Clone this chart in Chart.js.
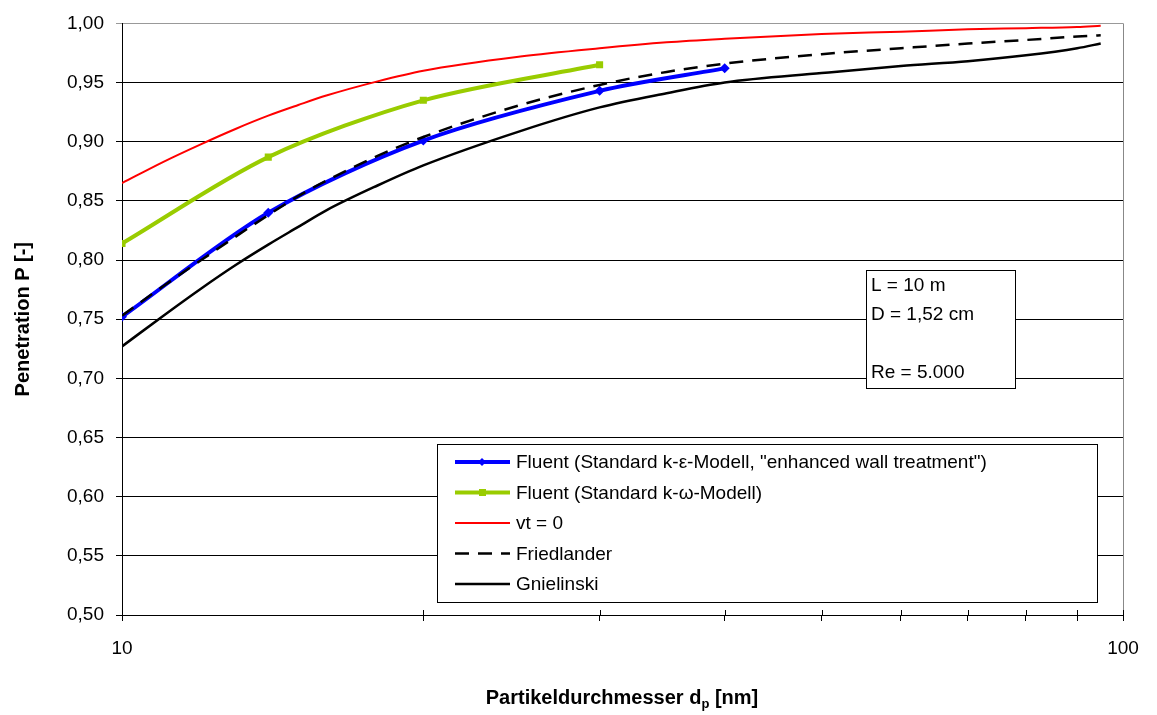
<!DOCTYPE html>
<html>
<head>
<meta charset="utf-8">
<script src="https://cdn.jsdelivr.net/npm/chart.js@4.4.1/dist/chart.umd.min.js"></script>
<style>
  html, body { margin: 0; padding: 0; background: #fff; }
  #wrap { width: 1157px; height: 715px; }
</style>
</head>
<body>
<div id="wrap"><canvas id="chart" width="1157" height="715"></canvas></div>
<script>
// particle diameters [nm]
var dpFluentEps = [10, 14, 20, 30, 40];
var kEpsilon = [0.752, 0.840, 0.901, 0.943, 0.962];
var dpFluentOmega = [10, 14, 20, 30];
var kOmega = [0.814, 0.887, 0.935, 0.965];

var dpTheory = [10, 11, 12, 13, 14, 15, 16, 18, 20, 25, 30, 35, 40, 50, 60, 70, 80, 90, 95];
var vt0 = [0.865, 0.883, 0.898, 0.911, 0.922, 0.931, 0.939, 0.951, 0.960, 0.972, 0.979, 0.984, 0.987, 0.991, 0.993, 0.995, 0.996, 0.997, 0.998];
var friedlander = [0.753, 0.778, 0.800, 0.820, 0.838, 0.854, 0.867, 0.888, 0.904, 0.931, 0.948, 0.959, 0.966, 0.974, 0.979, 0.983, 0.986, 0.989, 0.990];
var gnielinski = [0.727, 0.753, 0.776, 0.796, 0.813, 0.828, 0.842, 0.863, 0.880, 0.909, 0.929, 0.941, 0.950, 0.958, 0.964, 0.968, 0.973, 0.979, 0.983];

var labels = [
    'Fluent (Standard k-\u03b5-Modell, "enhanced wall treatment")',
    'Fluent (Standard k-\u03c9-Modell)',
    'vt = 0',
    'Friedlander',
    'Gnielinski'
];
var yTicks = [0.50, 0.55, 0.60, 0.65, 0.70, 0.75, 0.80, 0.85, 0.90, 0.95, 1.00];
var xTicks = [10, 20, 30, 40, 50, 60, 70, 80, 90, 100];
var infoLines = ['L = 10 m', 'D = 1,52 cm', '', 'Re = 5.000'];

var FONT = '"Liberation Sans", Arial, sans-serif';

function pts(xs, ys) {
    return xs.map(function (x, i) { return {x: x, y: ys[i]}; });
}

// legend + info box + x title drawn by hand
var decorations = {
    id: 'decorations',
    afterDraw: function (chart) {
        var ctx = chart.ctx;
        var area = chart.chartArea;
        var xs = chart.scales.x;
        ctx.save();

        // right border of plot area
        ctx.strokeStyle = '#888';
        ctx.lineWidth = 1;
        ctx.beginPath();
        ctx.moveTo(area.right + 0.5, area.top);
        ctx.lineTo(area.right + 0.5, area.bottom);
        ctx.stroke();

        // x tick marks crossing the axis
        ctx.strokeStyle = '#000';
        xTicks.forEach(function (v) {
            var px = Math.round(xs.getPixelForValue(v)) + 0.5;
            ctx.beginPath();
            ctx.moveTo(px, area.bottom - 5);
            ctx.lineTo(px, area.bottom);
            ctx.stroke();
        });

        // info box
        ctx.fillStyle = '#fff';
        ctx.fillRect(866, 270, 149, 118);
        ctx.strokeStyle = '#000';
        ctx.strokeRect(866.5, 270.5, 149, 118);
        ctx.fillStyle = '#000';
        ctx.font = '19px ' + FONT;
        ctx.textBaseline = 'middle';
        ctx.textAlign = 'left';
        infoLines.forEach(function (t, i) {
            ctx.fillText(t, 871, 286 + i * 29);
        });

        // legend box
        ctx.fillStyle = '#fff';
        ctx.fillRect(437, 444, 660, 158);
        ctx.strokeStyle = '#000';
        ctx.lineWidth = 1;
        ctx.strokeRect(437.5, 444.5, 660, 158);
        chart.data.datasets.forEach(function (ds, i) {
            var y = 462 + i * 30.5;
            ctx.strokeStyle = ds.borderColor;
            ctx.lineWidth = ds.borderWidth;
            ctx.setLineDash(ds.borderDash || []);
            ctx.beginPath();
            ctx.moveTo(455, y);
            ctx.lineTo(510, y);
            ctx.stroke();
            ctx.setLineDash([]);
            if (ds.pointStyle === 'rectRot') {
                ctx.fillStyle = ds.borderColor;
                ctx.beginPath();
                ctx.moveTo(482, y - 4); ctx.lineTo(486, y); ctx.lineTo(482, y + 4); ctx.lineTo(478, y);
                ctx.closePath();
                ctx.fill();
            } else if (ds.pointStyle === 'rect') {
                ctx.fillStyle = ds.borderColor;
                ctx.fillRect(479, y - 3.5, 7, 7);
            }
            ctx.fillStyle = '#000';
            ctx.font = '19px ' + FONT;
            ctx.fillText(ds.label, 516, y + 1);
        });

        // x axis title with subscript
        var a = 'Partikeldurchmesser d';
        var b = 'p';
        var c = ' [nm]';
        ctx.font = 'bold 20px ' + FONT;
        var wa = ctx.measureText(a).width;
        var wc = ctx.measureText(c).width;
        ctx.font = 'bold 13px ' + FONT;
        var wb = ctx.measureText(b).width;
        var x0 = 622 - (wa + wb + wc) / 2;
        ctx.fillStyle = '#000';
        ctx.textBaseline = 'alphabetic';
        ctx.font = 'bold 20px ' + FONT;
        ctx.fillText(a, x0, 704);
        ctx.font = 'bold 13px ' + FONT;
        ctx.fillText(b, x0 + wa, 708);
        ctx.font = 'bold 20px ' + FONT;
        ctx.fillText(c, x0 + wa + wb, 704);

        ctx.restore();
    }
};

var ctx = document.getElementById('chart');
new Chart(ctx, {
    type: 'line',
    data: {
        datasets: [
            {
                label: labels[0],
                data: pts(dpFluentEps, kEpsilon),
                borderColor: '#0000ff',
                backgroundColor: '#0000ff',
                borderWidth: 4,
                pointStyle: 'rectRot',
                pointRadius: 5,
                pointBorderWidth: 0,
                tension: 0.3,
                order: 2
            },
            {
                label: labels[1],
                data: pts(dpFluentOmega, kOmega),
                borderColor: '#99cc00',
                backgroundColor: '#99cc00',
                borderWidth: 4,
                pointStyle: 'rect',
                pointRadius: 5,
                pointBorderWidth: 0,
                tension: 0.3,
                order: 3
            },
            {
                label: labels[2],
                data: pts(dpTheory, vt0),
                borderColor: '#ff0000',
                borderWidth: 2,
                pointRadius: 0,
                cubicInterpolationMode: 'monotone',
                order: 4
            },
            {
                label: labels[3],
                data: pts(dpTheory, friedlander),
                borderColor: '#000000',
                borderWidth: 2.5,
                borderDash: [14, 9],
                pointRadius: 0,
                cubicInterpolationMode: 'monotone',
                order: 1
            },
            {
                label: labels[4],
                data: pts(dpTheory, gnielinski),
                borderColor: '#000000',
                borderWidth: 2.5,
                pointRadius: 0,
                cubicInterpolationMode: 'monotone',
                order: 5
            }
        ]
    },
    options: {
        responsive: false,
        animation: false,
        layout: { padding: { left: 0, right: 34, top: 19, bottom: 0 } },
        plugins: {
            legend: { display: false },
            tooltip: { enabled: false }
        },
        scales: {
            x: {
                type: 'logarithmic',
                min: 10,
                max: 100,
                afterFit: function (s) { s.height = 100; },
                afterBuildTicks: function (s) {
                    s.ticks = xTicks.map(function (v) { return {value: v}; });
                },
                grid: {
                    drawOnChartArea: false,
                    color: '#000',
                    tickLength: 6
                },
                border: { color: '#000', width: 1 },
                ticks: {
                    autoSkip: false,
                    maxRotation: 0,
                    padding: 16,
                    color: '#000',
                    font: { family: FONT, size: 19 },
                    callback: function (v) { return (v === 10 || v === 100) ? String(v) : ''; }
                }
            },
            y: {
                min: 0.5,
                max: 1.0,
                afterFit: function (s) { s.width = 122; },
                afterBuildTicks: function (s) {
                    s.ticks = yTicks.map(function (v) { return {value: v}; });
                },
                grid: {
                    color: function (c) { return c.tick && c.tick.value === 1 ? '#999' : '#000'; },
                    lineWidth: 1,
                    tickLength: 6
                },
                border: { color: '#000', width: 1 },
                title: {
                    display: true,
                    text: 'Penetration P [-]',
                    color: '#000',
                    font: { family: FONT, size: 20, weight: 'bold' },
                    padding: { top: 11, bottom: 0 }
                },
                ticks: {
                    padding: 12,
                    color: '#000',
                    font: { family: FONT, size: 19 },
                    callback: function (v) { return v.toFixed(2).replace('.', ','); }
                }
            }
        }
    },
    plugins: [decorations]
});
</script>
</body>
</html>
